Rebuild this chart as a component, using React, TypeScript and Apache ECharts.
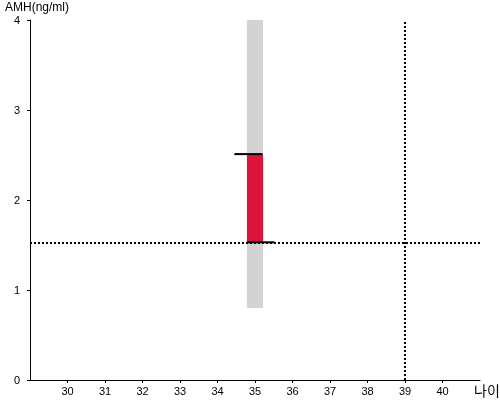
import React, { useEffect, useRef } from "react";
import * as echarts from "echarts";

// ---- data ----
const ages = [35];
const normalRangeLow = [0.8];
const normalRangeHigh = [4.0];
const resultLow = [1.53];
const resultHigh = [2.51];
const upperMarkAges = [34.45, 35.2];
const lowerMarkAges = [34.78, 35.52];
const referenceAMH = 1.53;
const referenceAge = 39;
const xMin = 29;
const xMax = 41;
const yMin = 0;
const yMax = 4;
const yAxisTitle = "AMH(ng/ml)";
const xAxisTitle = "나이";

const FONT = "'Liberation Sans', Arial, 'Noto Sans CJK KR', sans-serif";
const HALF = 0.215;

export default function App() {
  const ref = useRef<HTMLDivElement>(null);
  useEffect(() => {
    if (!ref.current) return;
    const chart = echarts.init(ref.current, null, { renderer: "svg" });
    const rectItem = (color: string) => (params: any, api: any) => {
      const x = api.value(0);
      const p1 = api.coord([x - HALF, api.value(2)]);
      const p2 = api.coord([x + HALF, api.value(1)]);
      const cs = params.coordSys;
      const rect = echarts.graphic.clipRectByRect(
        { x: p1[0], y: p1[1], width: p2[0] - p1[0], height: p2[1] - p1[1] },
        { x: cs.x, y: cs.y, width: cs.width, height: cs.height }
      );
      return rect ? { type: "rect", shape: rect, style: { fill: color } } : null;
    };
    chart.setOption({
      animation: false,
      textStyle: { fontFamily: FONT },
      grid: { left: 30, right: 20, top: 20, bottom: 20, containLabel: false },
      xAxis: {
        type: "value",
        min: xMin,
        max: xMax,
        interval: 1,
        splitLine: { show: false },
        axisLine: { lineStyle: { color: "#000", width: 1 } },
        axisTick: { length: 3, lineStyle: { color: "#000" } },
        axisLabel: {
          showMinLabel: false,
          showMaxLabel: false,
          color: "#000",
          fontSize: 11,
          margin: 5,
          fontFamily: FONT,
        },
      },
      yAxis: {
        type: "value",
        min: yMin,
        max: yMax,
        interval: 1,
        splitLine: { show: false },
        axisLine: { show: true, lineStyle: { color: "#000", width: 1 } },
        axisTick: { show: true, length: 3, lineStyle: { color: "#000" } },
        axisLabel: { color: "#000", fontSize: 11, margin: 10, fontFamily: FONT },
      },
      graphic: [
        {
          type: "text",
          left: 5,
          top: 1,
          style: { text: yAxisTitle, fontSize: 12, fill: "#000", fontFamily: FONT },
        },
        {
          type: "text",
          left: 474,
          top: 384,
          style: { text: xAxisTitle, fontSize: 14, fill: "#000", fontFamily: FONT },
        },
      ],
      series: [
        {
          type: "custom",
          name: "normal range",
          renderItem: rectItem("#D3D3D3"),
          data: ages.map((a, i) => [a, normalRangeLow[i], normalRangeHigh[i]]),
          z: 1,
        },
        {
          type: "custom",
          name: "result",
          renderItem: rectItem("#DC143C"),
          data: ages.map((a, i) => [a, resultLow[i], resultHigh[i]]),
          z: 2,
        },
        {
          type: "line",
          symbol: "none",
          lineStyle: { color: "#000", width: 2 },
          data: upperMarkAges.map((a) => [a, resultHigh[0]]),
          z: 4,
        },
        {
          type: "line",
          symbol: "none",
          lineStyle: { color: "#000", width: 2 },
          data: lowerMarkAges.map((a) => [a, resultLow[0]]),
          z: 4,
          markLine: {
            silent: true,
            symbol: ["none", "none"],
            label: { show: false },
            lineStyle: { color: "#000", width: 2, type: "dotted" },
            data: [{ yAxis: referenceAMH }, { xAxis: referenceAge }],
          },
        },
      ],
    });
    return () => chart.dispose();
  }, []);
  return (
    <div
      ref={ref}
      style={{ position: "fixed", left: 0, top: 0, width: 500, height: 400 }}
    />
  );
}
